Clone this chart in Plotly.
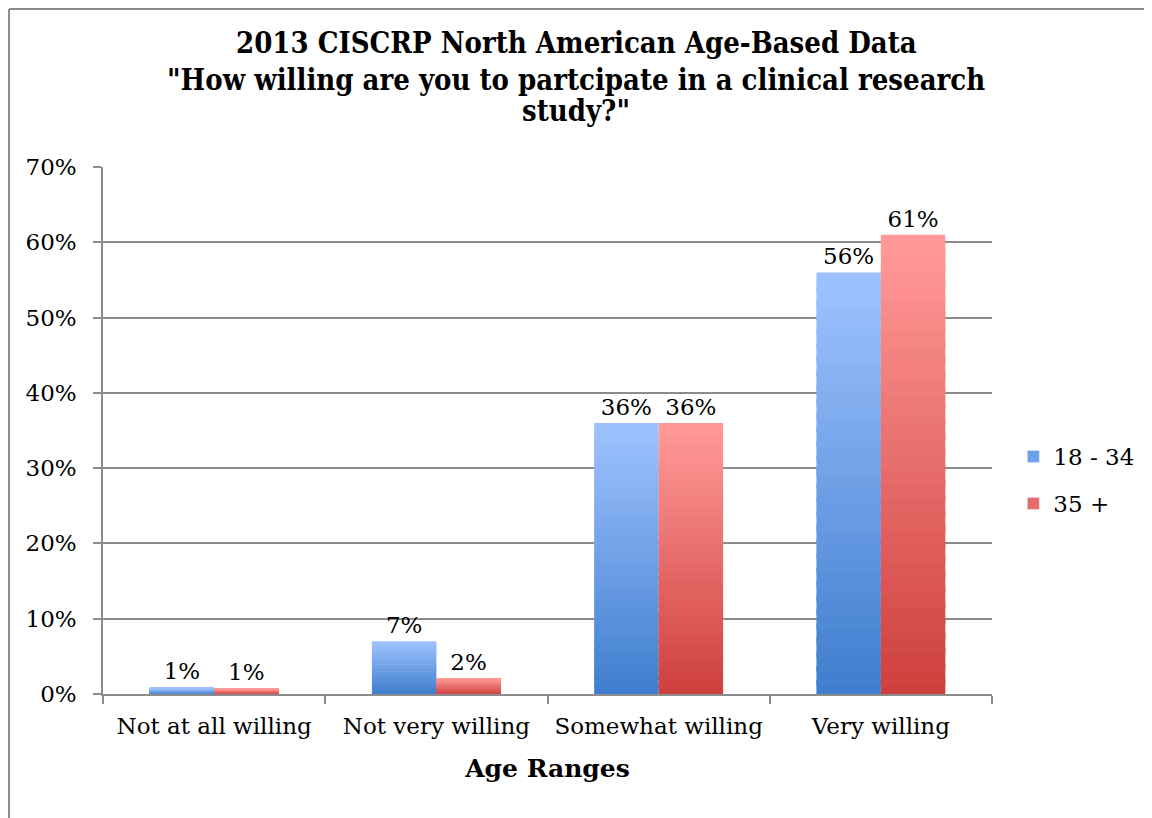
import plotly.graph_objects as go

categories = ["Not at all willing", "Not very willing", "Somewhat willing", "Very willing"]
series_names = ["18 - 34", "35 +"]
values_18_34 = [0.008, 0.07, 0.36, 0.56]
values_35_plus = [0.007, 0.021, 0.36, 0.61]
y_ticks = [0, 0.1, 0.2, 0.3, 0.4, 0.5, 0.6, 0.7]
title_lines = [
    "2013 CISCRP North American Age-Based Data",
    '"How willing are you to partcipate in a clinical research',
    'study?"',
]
x_title = "Age Ranges"

FONT = "DejaVu Serif"
TFONT = "DejaVu Serif Condensed"
FS = 23
N = 30

def lerp(c1, c2, t):
    return "rgb(%d,%d,%d)" % tuple(round(a + (b - a) * t) for a, b in zip(c1, c2))

series = [
    (series_names[0], values_18_34, (63, 126, 206), (157, 193, 255), "a"),
    (series_names[1], values_35_plus, (206, 64, 62), (255, 152, 150), "b"),
]

fig = go.Figure()
for name, vals, dark, light, grp in series:
    for k in range(N):
        t = k / (N - 1)
        col = lerp(dark, light, t)
        top = k == N - 1
        lo = max(k - 0.4, 0)
        fig.add_trace(go.Bar(
            x=categories,
            y=[v * (k + 1 - lo) / N for v in vals],
            base=[v * lo / N for v in vals],
            offsetgroup=grp,
            marker=dict(color=col, line=dict(width=0)),
            showlegend=False,
            hoverinfo="skip",
            text=[f"{v:.0%}" for v in vals] if top else None,
            textposition="outside" if top else "none",
            textfont=dict(family=FONT, size=FS, color="#000"),
            cliponaxis=False,
        ))
    fig.add_trace(go.Bar(
        x=categories, y=[None] * len(categories), name=name,
        offsetgroup=grp, legendgroup=grp,
        marker=dict(color=lerp(dark, light, 0.5)),
        showlegend=True,
    ))

annotations = []
for txt, yp in zip(title_lines, [1.2353, 1.1651, 1.1063]):
    annotations.append(dict(
        text=f"<b>{txt}</b>", xref="paper", yref="paper",
        x=(576 - 8 - 95) / 889, y=yp, xanchor="center", yanchor="middle",
        showarrow=False,
        font=dict(family=TFONT, size=29, color="#000"),
    ))

fig.update_layout(
    width=1144, height=810,
    margin=dict(l=95, r=160, t=159, b=124),
    paper_bgcolor="white", plot_bgcolor="white",
    barmode="group", bargap=0.42, bargroupgap=0,
    font=dict(family=FONT, size=FS, color="#000"),
    showlegend=True,
    legend=dict(
        x=1.024, y=0.406, xanchor="left", yanchor="middle",
        font=dict(family=FONT, size=FS, color="#000"),
        tracegroupgap=14, itemwidth=30,
    ),
    xaxis=dict(
        showline=True, linecolor="#8c8c8c", linewidth=1.5,
        ticks="outside", tickson="boundaries", ticklen=8, tickcolor="#8c8c8c", tickwidth=1.5,
        tickfont=dict(family=FONT, size=FS, color="#000"),
        ticklabelstandoff=11,
        title=dict(text=f"<b>{x_title}</b>", font=dict(family=FONT, size=25, color="#000"), standoff=21),
    ),
    yaxis=dict(
        range=[0, 0.7], tickvals=y_ticks, tickformat=".0%",
        showline=True, linecolor="#8c8c8c", linewidth=1.5,
        ticks="outside", ticklen=8, tickcolor="#8c8c8c", tickwidth=1.5,
        showgrid=True, gridcolor="#8c8c8c", gridwidth=1.5,
        zeroline=False,
        ticklabelstandoff=12,
        tickfont=dict(family=FONT, size=FS, color="#000"),
    ),
    annotations=annotations,
    shapes=[
        dict(type="line", xref="paper", yref="paper", x0=-0.1057, x1=-0.1057, y0=1.2998, y1=-0.3,
             line=dict(color="#8c8c8c", width=2)),
        dict(type="line", xref="paper", yref="paper", x0=-0.1057, x1=1.3, y0=1.2998, y1=1.2998,
             line=dict(color="#8c8c8c", width=2)),
    ],
)

fig.write_html("out.html")
